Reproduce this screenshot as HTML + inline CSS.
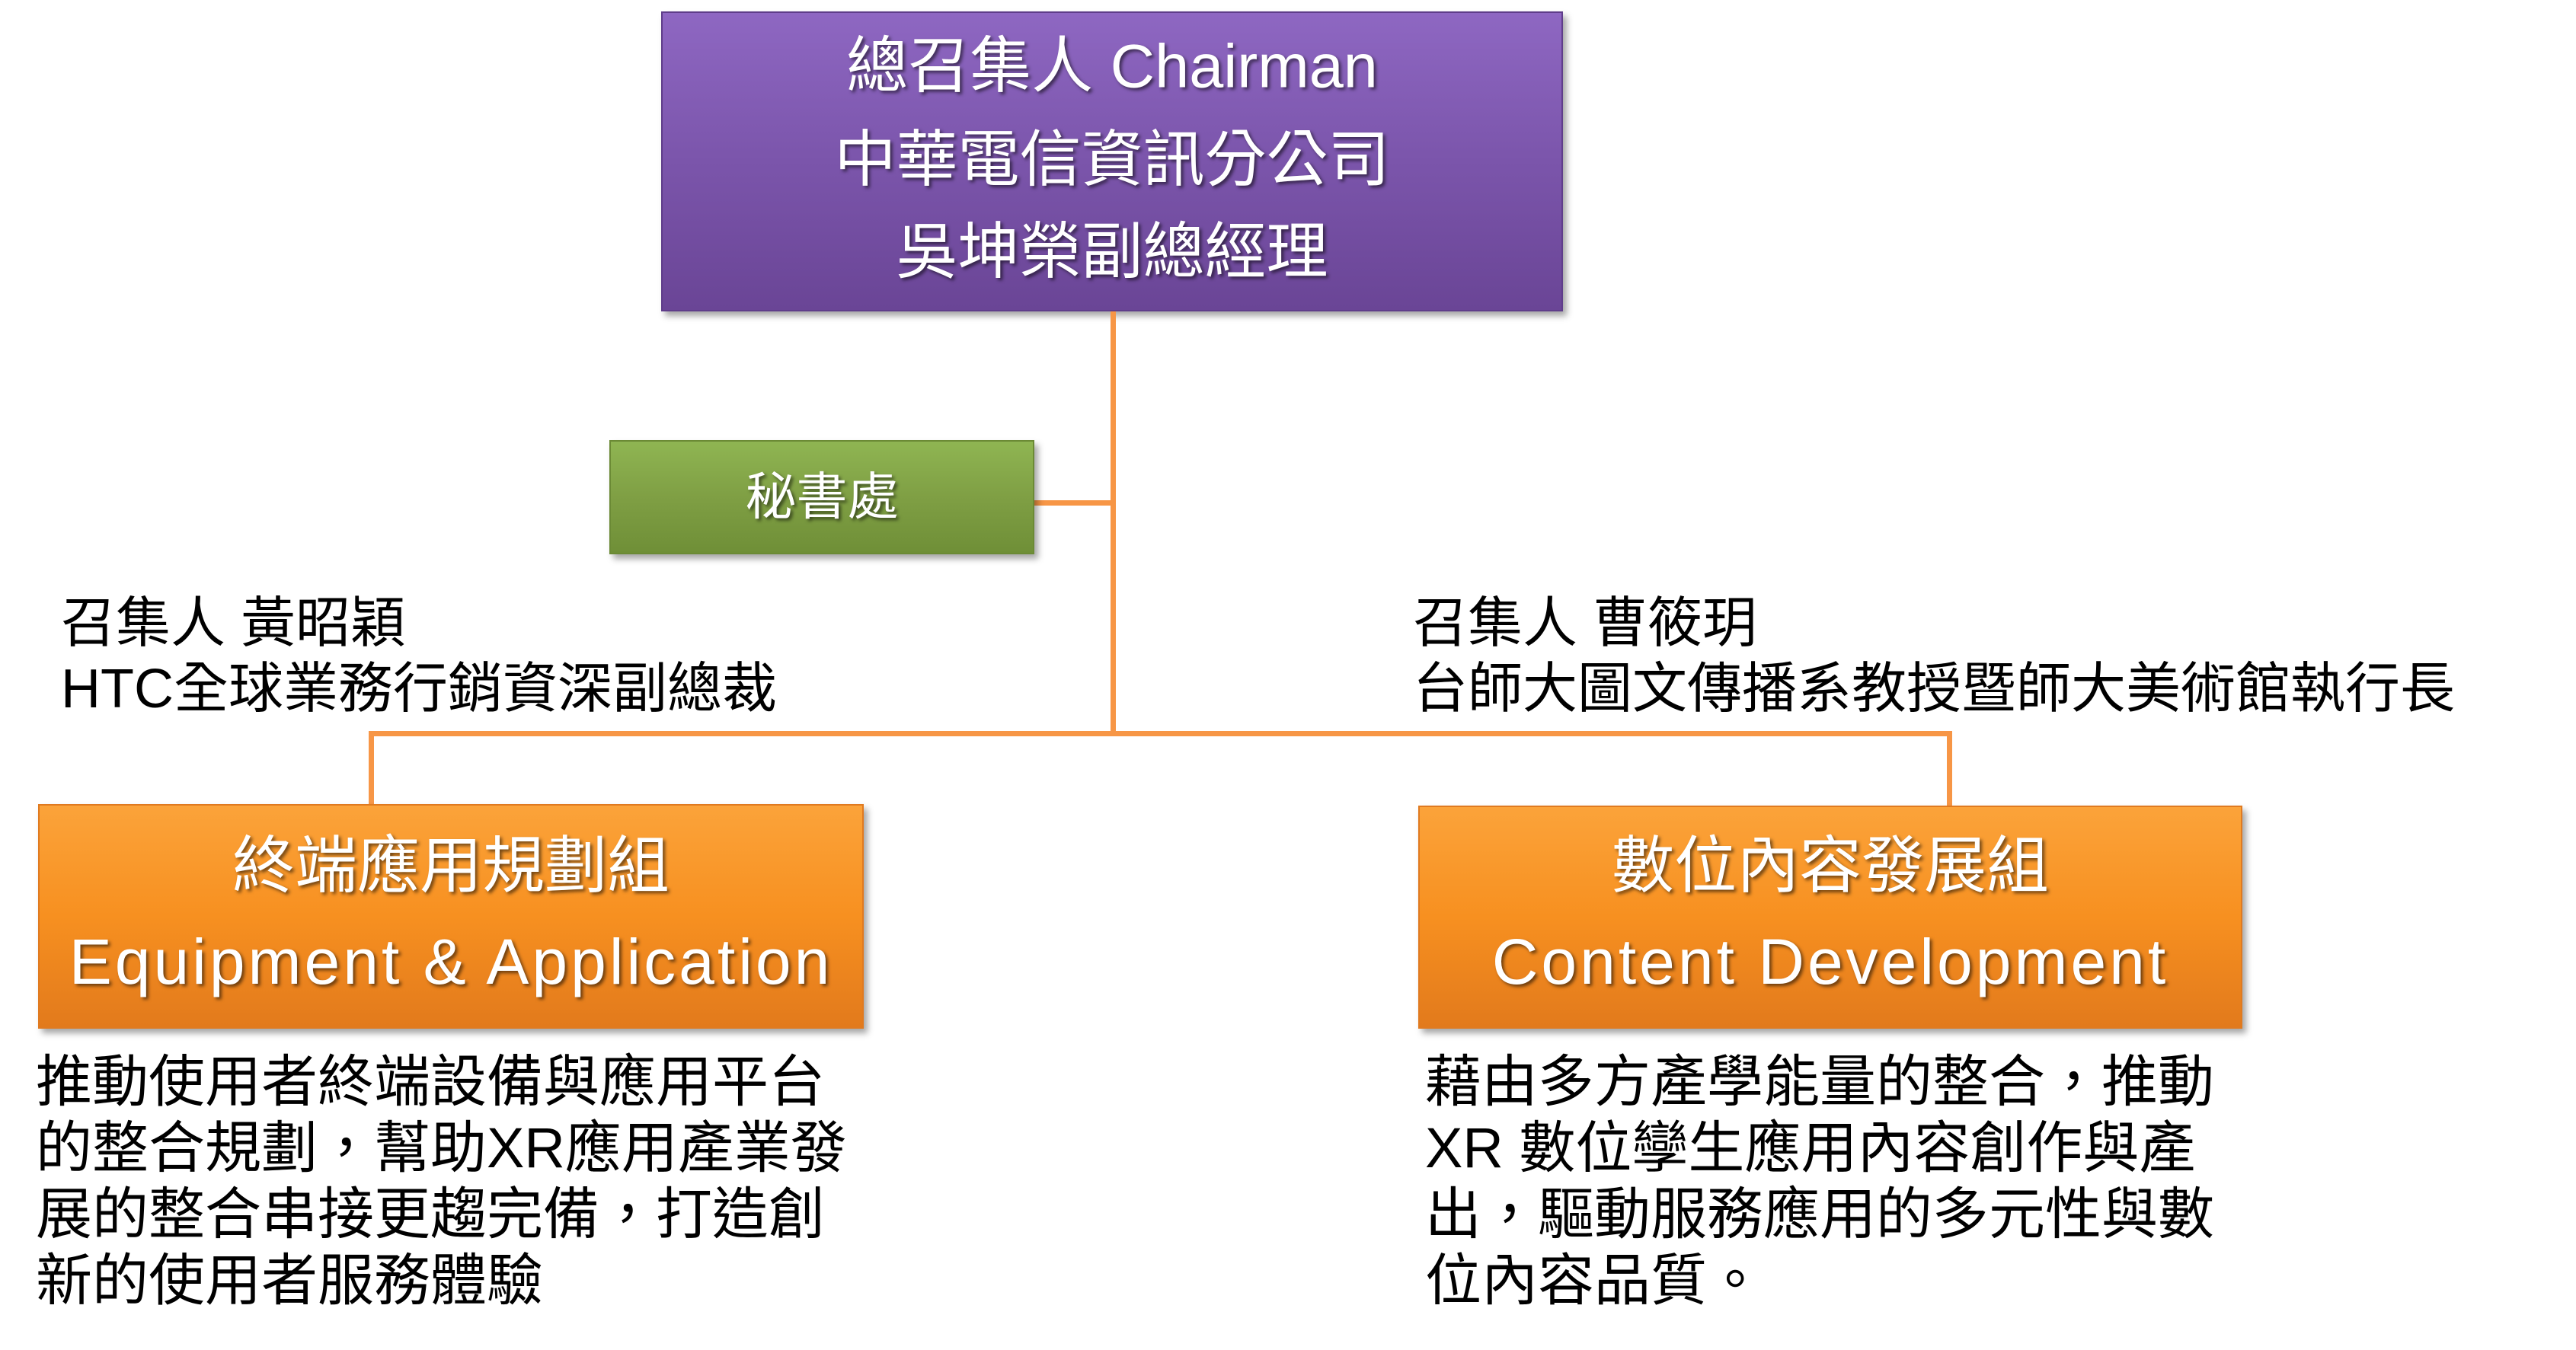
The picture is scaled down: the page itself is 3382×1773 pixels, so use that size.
<!DOCTYPE html>
<html><head><meta charset="utf-8"><style>
body{margin:0;width:3382px;height:1773px;background:#fff;position:relative;overflow:hidden;font-family:"Liberation Sans","Noto Sans CJK TC",sans-serif}
.box{position:absolute;box-sizing:border-box;color:#fff;text-align:center;text-shadow:3px 3px 4px rgba(0,0,0,.55);box-shadow:5px 6px 8px rgba(0,0,0,.35)}
.line{position:absolute;background:#f79646}
.t{position:absolute;white-space:nowrap;color:#000}
.l{position:absolute;left:0;right:0;transform:translateY(-50%);line-height:1}
</style></head><body>
<div class="box" style="left:868px;top:15px;width:1184px;height:394px;background:linear-gradient(#8e67c2,#7b55ab 50%,#6a4596);border:2px solid #5f3d8a">
<div class="l" style="top:71px;font-size:81px">總召集人 Chairman</div>
<div class="l" style="top:194px;font-size:81px">中華電信資訊分公司</div>
<div class="l" style="top:315px;font-size:81px">吳坤榮副總經理</div>
</div>
<div class="line" style="left:1458px;top:409px;width:7px;height:557px"></div>
<div class="line" style="left:1358px;top:657px;width:102px;height:7px"></div>
<div class="box" style="left:800px;top:578px;width:558px;height:150px;background:linear-gradient(#8fb552,#7f9f44 50%,#6f8f37);border:2px solid #6b8a35">
<div class="l" style="top:73px;font-size:67px">秘書處</div>
</div>
<div class="line" style="left:484px;top:960px;width:2079px;height:7px"></div>
<div class="line" style="left:484px;top:960px;width:7px;height:98px"></div>
<div class="line" style="left:2556px;top:960px;width:7px;height:98px"></div>
<div class="box" style="left:50px;top:1056px;width:1084px;height:295px;background:linear-gradient(#fba33a,#f79020 50%,#e27a1c);border:2px solid #e07a20">
<div class="l" style="top:80px;font-size:82px">終端應用規劃組</div>
<div class="l" style="top:205px;font-size:84px;letter-spacing:4px">Equipment &amp; Application</div>
</div>
<div class="box" style="left:1862px;top:1058px;width:1082px;height:293px;background:linear-gradient(#fba33a,#f79020 50%,#e27a1c);border:2px solid #e07a20">
<div class="l" style="top:78px;font-size:82px">數位內容發展組</div>
<div class="l" style="top:203px;font-size:84px;letter-spacing:4px">Content Development</div>
</div>
<div class="t" style="left:80px;top:776px;font-size:72px;line-height:86px">召集人 黃昭穎<br>HTC全球業務行銷資深副總裁</div>
<div class="t" style="left:1855px;top:776px;font-size:72px;line-height:86px">召集人 曹筱玥<br>台師大圖文傳播系教授暨師大美術館執行長</div>
<div class="t" style="left:47px;top:1377px;font-size:74px;line-height:87px">推動使用者終端設備與應用平台<br>的整合規劃，幫助XR應用產業發<br>展的整合串接更趨完備，打造創<br>新的使用者服務體驗</div>
<div class="t" style="left:1871px;top:1377px;font-size:74px;line-height:87px">藉由多方產學能量的整合，推動<br>XR 數位孿生應用內容創作與產<br>出，驅動服務應用的多元性與數<br>位內容品質。</div>
</body></html>
